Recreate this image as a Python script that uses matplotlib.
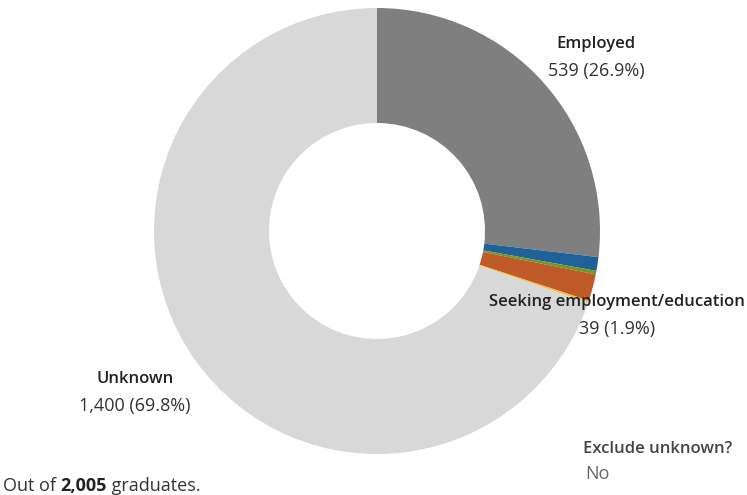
import matplotlib.pyplot as plt

# slice data, clockwise from 12 o'clock
categories = ['Employed', 'Further study', 'Volunteering', 'Seeking employment/education', 'Other', 'Unknown']
counts = [539, 20, 5, 39, 3, 1400]
colors = ['#7f7f7f', '#1f6198', '#6a9a22', '#c05a29', '#f1c040', '#d8d8d8']
shown = ['Employed', 'Seeking employment/education', 'Unknown']
total = 2005

W, H = 747, 495
fig = plt.figure(figsize=(W / 100, H / 100), dpi=100)
ax = fig.add_axes([0, 0, 1, 1])

cx, cy, R = 377, H - 231, 223
ax.pie(counts, colors=colors, startangle=90, counterclock=False,
       center=(cx, cy), radius=R, frame=True,
       wedgeprops=dict(width=R - 108, linewidth=0))
ax.set_xlim(0, W)
ax.set_ylim(0, H)
ax.axis('off')

font = 'Open Sans'
fs_bold = 12
fs_reg = 13


def label(x, y, name, value):
    pct = value / total * 100
    ax.text(x, H - y, name, ha='center', va='center', fontsize=fs_bold,
            family=font, fontweight='semibold', color='#222222')
    ax.text(x, H - y - 27, f'{value:,} ({pct:.1f}%)', ha='center', va='center',
            fontsize=fs_reg, family=font, color='#333333')


label_pos = {'Employed': (596, 44), 'Seeking employment/education': (617, 302),
             'Unknown': (135, 379)}
for name, value in zip(categories, counts):
    if name in shown:
        x, y = label_pos[name]
        label(x, y, name, value)

ax.text(583, H - 449, 'Exclude unknown?', ha='left', va='center', fontsize=fs_bold,
        family=font, fontweight='semibold', color='#444444')
ax.text(585, H - 474, 'No', ha='left', va='center', fontsize=fs_reg,
        family=font, color='#666666')

# footer with bold total
t1 = ax.text(3, H - 486, 'Out of ', ha='left', va='center', fontsize=fs_reg,
             family=font, color='#333333')
fig.canvas.draw()
x2 = t1.get_window_extent().x1
t2 = ax.text(x2, H - 486, f'{total:,}', ha='left', va='center', fontsize=fs_reg,
             family=font, fontweight='bold', color='#222222')
fig.canvas.draw()
x3 = t2.get_window_extent().x1
ax.text(x3, H - 486, ' graduates.', ha='left', va='center', fontsize=fs_reg,
        family=font, color='#333333')

fig.savefig('out.png', dpi=100)
